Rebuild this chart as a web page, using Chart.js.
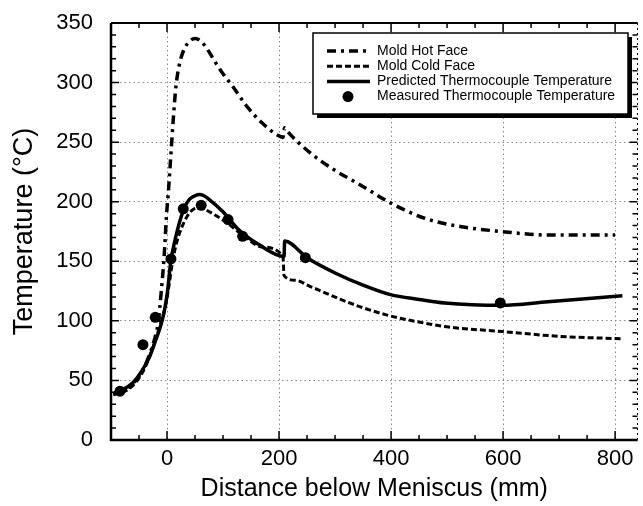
<!DOCTYPE html>
<html>
<head>
<meta charset="utf-8">
<script src="https://cdn.jsdelivr.net/npm/chart.js@4.4.1/dist/chart.umd.min.js"></script>
<style>
  html, body { margin: 0; padding: 0; background: #fff; }
  #wrap { width: 643px; height: 506px; }
</style>
</head>
<body>
<div id="wrap"><canvas id="myChart"></canvas></div>
<script>
// values
const hotX = [-92, -75, -60, -45, -31, -22, -16, -10, -5, -1, 3, 7, 11, 16, 22, 28, 37, 50, 60, 72, 85, 99, 117, 141, 170, 197, 207, 210, 215, 253, 301, 342, 399, 461, 526, 597, 680, 800];
const hotY = [39, 42, 48, 57, 72, 85, 98, 126, 155, 188, 212, 240, 268, 297, 315, 325, 333, 337, 335, 328, 318, 308, 297, 281, 266, 256, 254, 262, 259, 242, 226, 215, 199, 186, 179, 175, 172, 172];

const coldX = [-96, -80, -65, -50, -38, -28, -18, -10, -3, 3, 10, 18, 26, 35, 45, 58, 70, 85, 105, 135, 170, 207, 209, 230, 255, 280, 310, 350, 400, 450, 500, 600, 700, 810];
const coldY = [38, 40, 44, 52, 62, 74, 88, 100, 112, 128, 150, 167, 178, 187, 193, 195, 193, 189, 183, 172, 162, 154, 138, 134, 129, 124, 118, 111, 104, 99, 95, 91, 87, 85];

const predX = [-96, -80, -61, -45, -31, -20, -10, -4, 1, 7, 13, 19, 25, 31, 40, 50, 58, 66, 75, 99, 129, 164, 209, 210, 250, 301, 350, 399, 450, 496, 597, 680, 813];
const predY = [39, 42, 48, 58, 70, 84, 98, 110, 125, 151, 165, 177, 187, 195, 202, 205, 206, 205, 202, 192, 176, 164, 154, 167, 153, 140, 130, 122, 118, 115, 113, 116, 121];

const measX = [-84, -43, -21, 7, 29, 61, 109, 135, 247, 595];
const measY = [41, 80, 103, 152, 194, 197, 185, 171, 153, 115];

const xTickValues = [0, 200, 400, 600, 800];

const seriesNames = ["Mold Hot Face", "Mold Cold Face", "Predicted Thermocouple Temperature", "Measured Thermocouple Temperature"];

function pairs(xs, ys) {
  return xs.map((x, i) => ({ x: x, y: ys[i] }));
}

const FONT = "'Liberation Sans', Arial, Helvetica, sans-serif";

const data = {
  datasets: [
    {
      label: seriesNames[0],
      data: pairs(hotX, hotY),
      borderColor: '#000',
      borderWidth: 3.5,
      borderDash: [9, 5, 3, 5],
      pointRadius: 0,
      cubicInterpolationMode: 'monotone',
      fill: false
    },
    {
      label: seriesNames[1],
      data: pairs(coldX, coldY),
      borderColor: '#000',
      borderWidth: 3,
      borderDash: [6, 3],
      pointRadius: 0,
      cubicInterpolationMode: 'monotone',
      fill: false
    },
    {
      label: seriesNames[2],
      data: pairs(predX, predY),
      borderColor: '#000',
      borderWidth: 3.5,
      pointRadius: 0,
      cubicInterpolationMode: 'monotone',
      fill: false
    },
    {
      label: seriesNames[3],
      data: pairs(measX, measY),
      showLine: false,
      pointRadius: 5.5,
      pointBackgroundColor: '#000',
      pointBorderColor: '#000',
      pointBorderWidth: 0
    }
  ]
};

// frame with inward ticks on all four sides
const framePlugin = {
  id: 'frame',
  afterDraw(chart) {
    const ctx = chart.ctx;
    const a = chart.chartArea;
    const xs = chart.scales.x, ys = chart.scales.y;
    ctx.save();
    ctx.strokeStyle = '#000';
    ctx.lineWidth = 1.5;
    for (let v = 0; v <= 350; v += 10) {
      const py = ys.getPixelForValue(v);
      const len = v % 50 == 0 ? 8 : 5;
      ctx.beginPath();
      ctx.moveTo(a.left, py); ctx.lineTo(a.left + len, py);
      ctx.moveTo(a.right, py); ctx.lineTo(a.right - len, py);
      ctx.stroke();
    }
    for (let v = -50; v <= 800; v += 50) {
      const px = xs.getPixelForValue(v);
      const len = v % 200 == 0 ? 9 : 5;
      ctx.beginPath();
      ctx.moveTo(px, a.bottom); ctx.lineTo(px, a.bottom - len);
      ctx.moveTo(px, a.top); ctx.lineTo(px, a.top + len);
      ctx.stroke();
    }
    ctx.lineWidth = 2.5;
    ctx.beginPath();
    ctx.moveTo(a.left, a.top); ctx.lineTo(a.left, a.bottom); ctx.lineTo(a.right, a.bottom);
    ctx.stroke();
    ctx.lineWidth = 2;
    ctx.beginPath();
    ctx.moveTo(a.left, a.top); ctx.lineTo(a.right, a.top);
    ctx.stroke();
    ctx.lineWidth = 1;
    ctx.setLineDash([2, 3]);
    ctx.beginPath();
    ctx.moveTo(a.right, a.top); ctx.lineTo(a.right, a.bottom);
    ctx.stroke();
    ctx.restore();
  }
};

// boxed legend with drop shadow, inside the plot
const legendPlugin = {
  id: 'boxLegend',
  afterDraw(chart) {
    const ctx = chart.ctx;
    const a = chart.chartArea;
    const L = a.left + 202, T = a.top + 10, W = 315, H = 81;
    ctx.save();
    ctx.fillStyle = '#000';
    ctx.fillRect(L + 4, T + 4, W, H);
    ctx.fillStyle = '#fff';
    ctx.fillRect(L, T, W, H);
    ctx.strokeStyle = '#000';
    ctx.lineWidth = 1.5;
    ctx.strokeRect(L, T, W, H);
    ctx.font = '14px ' + FONT;
    ctx.textBaseline = 'middle';
    chart.data.datasets.forEach((ds, i) => {
      const cy = T + 18 + i * 15.2;
      ctx.fillStyle = '#000';
      if (ds.showLine === false) {
        ctx.beginPath();
        ctx.arc(L + 35, cy, 5.5, 0, Math.PI * 2);
        ctx.fill();
      } else {
        ctx.strokeStyle = '#000';
        ctx.lineWidth = ds.borderWidth;
        ctx.setLineDash(ds.borderDash || []);
        ctx.beginPath();
        ctx.moveTo(L + 14, cy); ctx.lineTo(L + 57, cy);
        ctx.stroke();
        ctx.setLineDash([]);
      }
      ctx.fillText(ds.label, L + 64, cy);
    });
    ctx.restore();
  }
};

const config = {
  type: 'line',
  data: data,
  options: {
    responsive: true,
    maintainAspectRatio: false,
    animation: false,
    layout: { padding: { left: 0, right: 2, top: 23, bottom: 0 } },
    plugins: {
      legend: { display: false },
      tooltip: { enabled: false }
    },
    scales: {
      x: {
        type: 'linear',
        min: -100,
        max: 840,
        afterBuildTicks: (scale) => {
          scale.ticks = xTickValues.map(v => ({ value: v }));
        },
        afterFit: (scale) => {
          scale.height = 66;
          scale.paddingLeft = 0;
          scale.paddingRight = 0;
        },
        ticks: {
          color: '#000',
          font: { family: FONT, size: 22 },
          padding: 6,
          maxRotation: 0
        },
        grid: { color: '#888', lineWidth: 1, drawTicks: false },
        border: { display: false, dash: [1.5, 3] },
        title: {
          display: true,
          text: 'Distance below Meniscus (mm)',
          color: '#000',
          font: { family: FONT, size: 25 },
          padding: { top: 0, bottom: 2 }
        }
      },
      y: {
        min: 0,
        max: 350,
        afterFit: (scale) => {
          scale.width = 111;
          scale.paddingTop = 0;
          scale.paddingBottom = 0;
        },
        ticks: {
          stepSize: 50,
          color: '#000',
          font: { family: FONT, size: 22 },
          padding: 18
        },
        grid: { color: '#888', lineWidth: 1, drawTicks: false },
        border: { display: false, dash: [1.5, 3] },
        title: {
          display: true,
          text: 'Temperature (°C)',
          color: '#000',
          font: { family: FONT, size: 27 },
          padding: { top: 8, bottom: 0 }
        }
      }
    }
  },
  plugins: [framePlugin, legendPlugin]
};

const myChart = new Chart(document.getElementById('myChart'), config);
</script>
</body>
</html>
